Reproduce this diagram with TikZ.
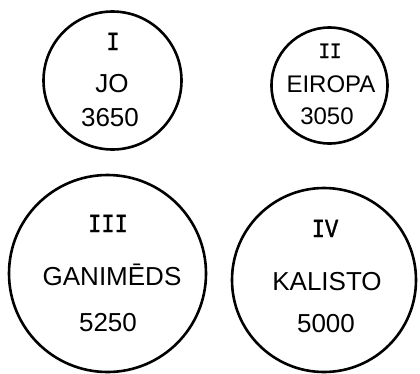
\documentclass[tikz,border=0pt]{standalone}
\usepackage{graphicx}
\usepackage{fontspec}
\setmainfont{Liberation Sans}
\newfontfamily\romfont[FakeBold=1.5]{Liberation Mono}
\newcommand{\romnum}[1]{\scalebox{0.85}[1]{#1}}
\begin{document}
\begin{tikzpicture}[x=1pt,y=-1pt,
  moon/.style={circle, draw, line width=2.6pt, inner sep=0pt},
  lbl/.style={font=\fontsize{26}{26}\selectfont, inner sep=0pt, anchor=base},
  lblsmall/.style={font=\fontsize{24}{24}\selectfont, inner sep=0pt, anchor=base},
  rom/.style={font=\romfont\fontsize{26}{26}\selectfont, inner sep=0pt, anchor=base},
  romsmall/.style={font=\romfont\fontsize{22}{22}\selectfont, inner sep=0pt, anchor=base}]
\useasboundingbox (0,0) rectangle (420,373);
% circles
\node[moon, minimum size=138pt] (io) at (112.5,80.5) {};
\node[moon, minimum size=116pt] (eiropa) at (329.5,85.5) {};
\node[moon, minimum size=197pt] (ganimeds) at (107.5,273.5) {};
\node[moon, minimum size=184pt] (kalisto) at (324,280) {};
% I
\node[rom] (ionum) at (113,50) {\romnum{I}};
\node[lbl] (ioname) at (112,92.3) {JO};
\node[lbl] (iosize) at (110,126.3) {3650};
% II
\node[romsmall] (eiropanum) at (330,58) {\romnum{II}};
\node[lblsmall] (eiropaname) at (331,92.5) {EIROPA};
\node[lblsmall] (eiropasize) at (327,124.5) {3050};
% III
\node[rom] (ganimedsnum) at (108,232) {\romnum{III}};
\node[lbl] (ganimedsname) at (112,285.3) {GANIMĒDS};
\node[lbl] (ganimedssize) at (108,331.3) {5250};
% IV
\node[rom] (kalistonum) at (325,237) {\romnum{IV}};
\node[lbl] (kalistoname) at (327,290.3) {KALISTO};
\node[lbl] (kalistosize) at (326,332.3) {5000};
\end{tikzpicture}
\end{document}
